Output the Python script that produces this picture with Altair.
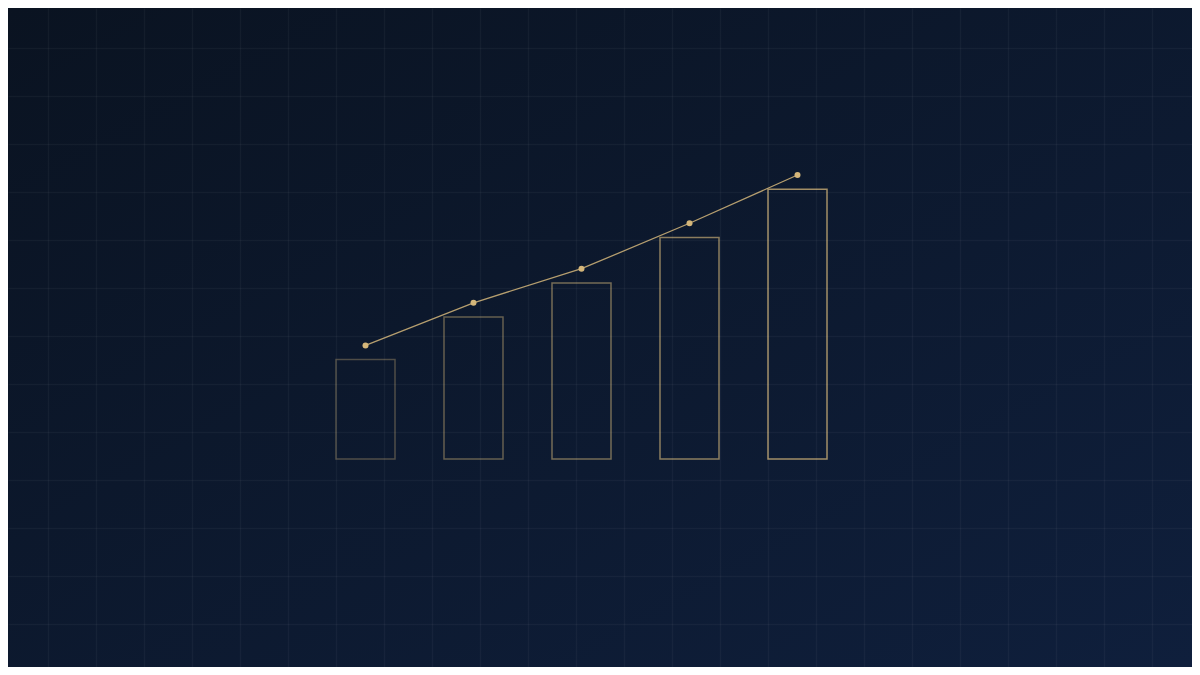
import altair as alt
import pandas as pd

# ---- data ----
categories = ["A", "B", "C", "D", "E"]
bar_values = [35, 50, 62, 78, 95]
line_values = [40, 55, 67, 83, 100]

# whole page is 1200x675 with an 8px body margin -> chart fills 1184x659
W, H = 1184, 659
M = 8
GRID = 48
GOLD = "#d4b67a"
BG0, BG1 = "#0a1321", "#0f1f3c"

df = pd.DataFrame({"cat": categories, "bar": bar_values, "line": line_values})

# y scale: value 0 sits at 451px from chart top, value 100 at 167px
y_scale = alt.Scale(domain=[-73.24, 158.80], nice=False, zero=False)
x_scale = alt.Scale(paddingInner=0.4537, paddingOuter=0.2268, range=[303.5, 843.5])

grid_axis = dict(grid=True, labels=False, ticks=False, domain=False, title=None, zindex=1,
                 gridColor="#ffffff", gridOpacity=0.04, gridWidth=1.5)

backdrop = alt.Chart(pd.DataFrame({"g": [0]})).mark_rect(
    color=alt.LinearGradient(gradient="linear", x1=0, y1=0, x2=1, y2=1,
                             stops=[alt.GradientStop(color=BG0, offset=0),
                                    alt.GradientStop(color=BG1, offset=1)])
).encode(x=alt.value(0), x2=alt.value(W), y=alt.value(0), y2=alt.value(H))

grid = alt.Chart(pd.DataFrame({"g": [0]})).mark_point(opacity=0).encode(
    x=alt.X("g:Q", scale=alt.Scale(domain=[M / GRID, (W + M) / GRID], nice=False, zero=False),
            axis=alt.Axis(values=list(range(1, (W + M) // GRID + 1)), **grid_axis)),
    y=alt.Y("g:Q", scale=alt.Scale(domain=[M / GRID, (H + M) / GRID], nice=False, zero=False,
                                   reverse=True),
            axis=alt.Axis(values=list(range(1, (H + M) // GRID + 1)), **grid_axis)),
)

bars = alt.Chart(df).mark_bar(fill="transparent", stroke=GOLD, strokeWidth=1.5).encode(
    x=alt.X("cat:N", sort=None, scale=x_scale, axis=None),
    y=alt.Y("bar:Q", scale=y_scale, axis=None),
    y2=alt.datum(0),
    strokeOpacity=alt.StrokeOpacity("bar:Q", scale=alt.Scale(domain=[35, 95], range=[0.34, 0.75]),
                                    legend=None),
)

line = alt.Chart(df).mark_line(color=GOLD, strokeWidth=1.3, opacity=0.85).encode(
    x=alt.X("cat:N", sort=None, scale=x_scale, axis=None),
    y=alt.Y("line:Q", scale=y_scale, axis=None),
)

points = alt.Chart(df).mark_point(filled=True, color=GOLD, size=36, opacity=1).encode(
    x=alt.X("cat:N", sort=None, scale=x_scale, axis=None),
    y=alt.Y("line:Q", scale=y_scale, axis=None),
)

inner = alt.layer(bars, line, points)

chart = alt.layer(backdrop, grid, inner).resolve_scale(x="independent", y="independent").properties(
    width=W, height=H, padding=0,
    autosize=alt.AutoSizeParams(type="none"),
    background=BG0,
).configure_view(stroke=None)

chart.save("out.html", embed_options={"renderer": "svg", "actions": False})
